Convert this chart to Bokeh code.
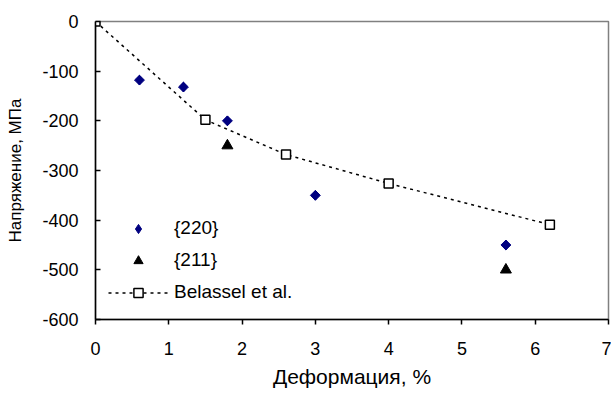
from bokeh.plotting import figure
from bokeh.models import FixedTicker, Legend, LegendItem, Range1d
from bokeh.embed import file_html
from bokeh.resources import INLINE
import numpy as np

# Data
strain_220 = [0.6, 1.2, 1.8, 3.0, 5.6]
stress_220 = [-118, -132, -200, -350, -450]

strain_211 = [1.8, 5.6]
stress_211 = [-250, -500]

strain_bel = [0.0, 1.5, 2.6, 4.0, 6.2]
stress_bel = [0, -198, -268, -326, -409]

x_ticks = [0, 1, 2, 3, 4, 5, 6, 7]
y_ticks = [-600, -500, -400, -300, -200, -100, 0]

FONT = "Liberation Sans"

p = figure(width=611, height=390, output_backend="svg", toolbar_location=None,
           x_range=Range1d(0, 7), y_range=Range1d(-600, 0),
           min_border_left=95, min_border_right=3, min_border_top=21, min_border_bottom=71)

p.xgrid.visible = False
p.ygrid.visible = False
p.background_fill_color = "white"
p.outline_line_color = "#808080"
p.outline_line_width = 1.5

for ax in (p.xaxis[0], p.yaxis[0]):
    ax.axis_line_color = "black"
    ax.axis_line_width = 1.5
    ax.major_tick_line_color = "black"
    ax.major_tick_line_width = 1.5
    ax.minor_tick_line_color = None
    ax.major_label_text_font = FONT
    ax.major_label_text_font_size = "18px"
    ax.major_label_text_color = "black"
    ax.axis_label_text_font = FONT
    ax.axis_label_text_font_style = "normal"
    ax.axis_label_text_color = "black"

p.xaxis.axis_label_text_font_size = "21px"
p.yaxis.axis_label_text_font_size = "17px"
p.xaxis.ticker = FixedTicker(ticks=x_ticks)
p.yaxis.ticker = FixedTicker(ticks=y_ticks)
p.xaxis.major_label_overrides = {t: str(t) for t in x_ticks}
p.yaxis.major_label_overrides = {t: str(t) for t in y_ticks}
p.xaxis.major_tick_in = 0
p.xaxis.major_tick_out = 5
p.yaxis.major_tick_in = 5
p.yaxis.major_tick_out = 0
p.xaxis.major_label_standoff = 17
p.yaxis.major_label_standoff = 17
p.xaxis.axis_label_standoff = 7
p.yaxis.axis_label_standoff = 14
p.xaxis.axis_label = "Деформация, %"
p.yaxis.axis_label = "Напряжение, МПа"

bel_line = p.line(strain_bel, stress_bel, line_color="black", line_width=1.5, line_dash="3 4")
bel_sq = p.scatter(strain_bel, stress_bel, marker="square", size=9, fill_color="white",
                   line_color="black", line_width=1.5)
# diamond renderer (used by the legend) sits underneath the rotated-square markers
r220_key = p.scatter(strain_220, stress_220, marker="diamond", size=9.5,
                     fill_color="#000080", line_color="#000080")
r220 = p.scatter(strain_220, stress_220, marker="square", angle=np.pi / 4, size=7,
                 fill_color="#000080", line_color="#000080")
r211 = p.scatter(strain_211, stress_211, marker="triangle", size=11,
                 fill_color="black", line_color="black")

legend = Legend(items=[
    LegendItem(label="{220}", renderers=[r220_key]),
    LegendItem(label="{211}", renderers=[r211]),
    LegendItem(label="Belassel et al.", renderers=[bel_line, bel_sq]),
], location=(13, 14), padding=0, spacing=6, glyph_width=60, glyph_height=23,
    label_height=26, label_standoff=6, border_line_alpha=0, background_fill_alpha=0,
    label_text_font=FONT, label_text_font_size="19px", label_text_color="black", margin=0)
p.add_layout(legend, "center")

open("out.html", "w").write(file_html(p, INLINE))
